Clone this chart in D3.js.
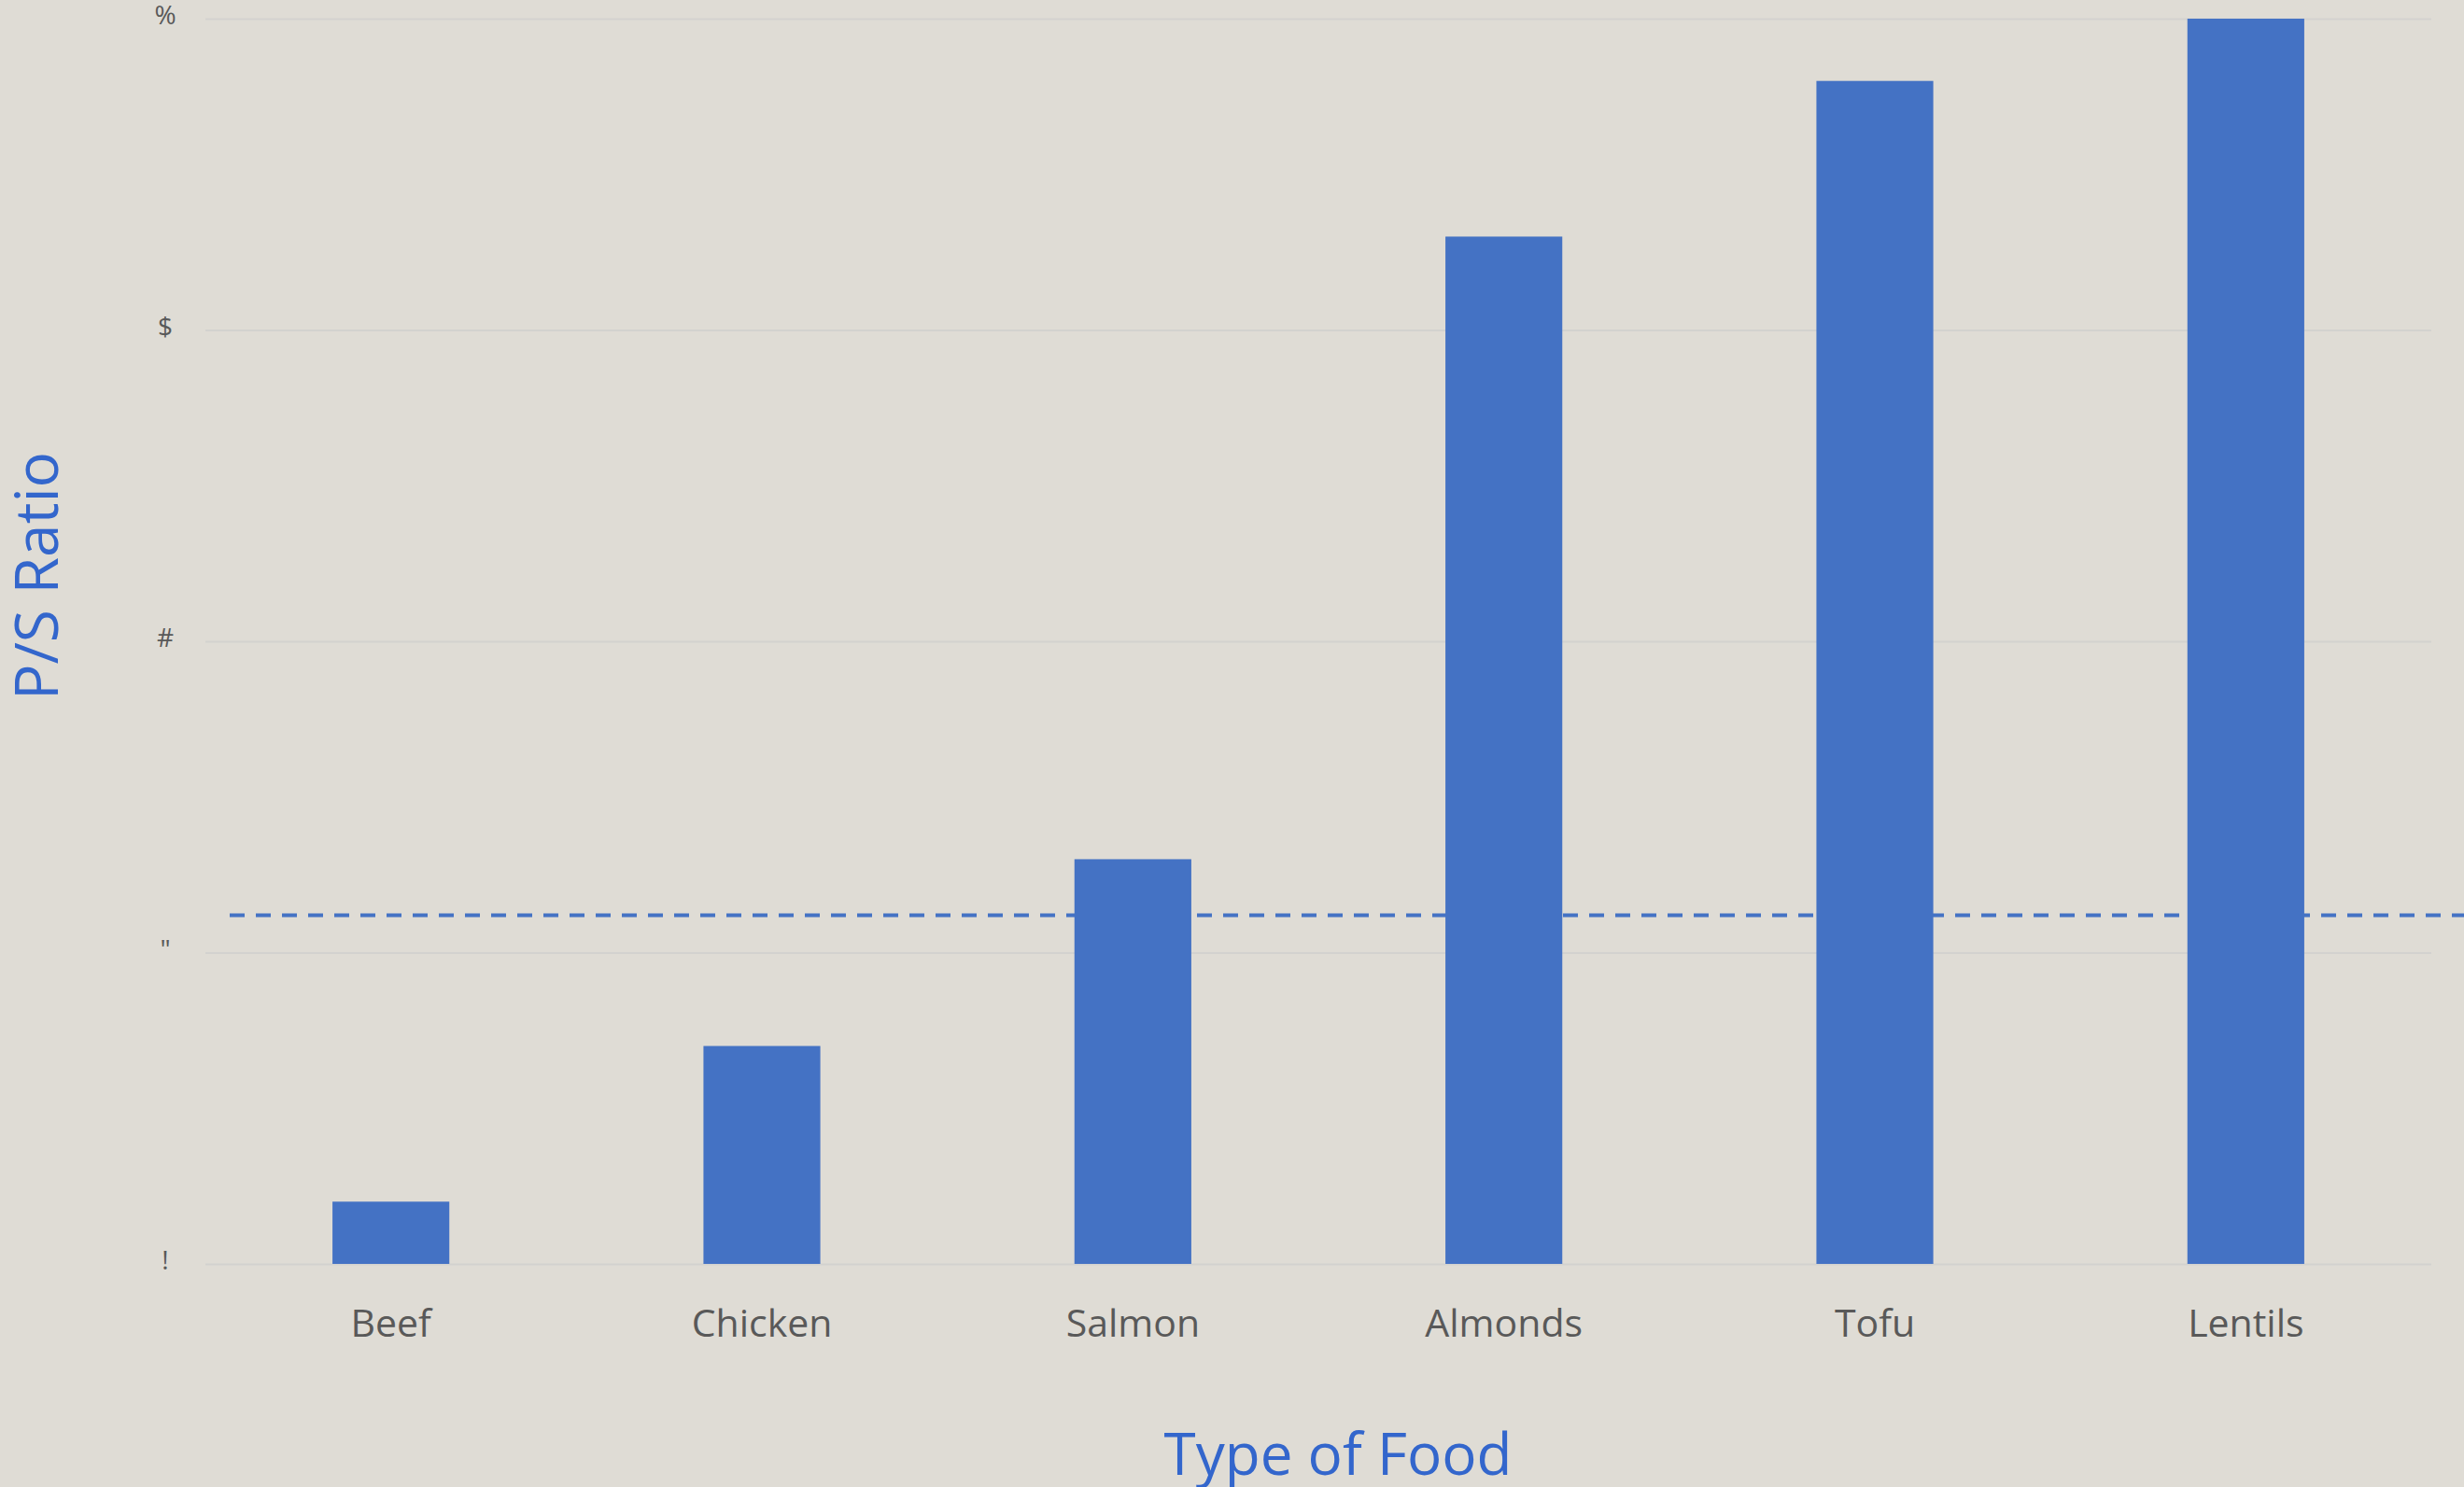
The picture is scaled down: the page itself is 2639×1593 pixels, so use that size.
<!DOCTYPE html>
<html>
<head>
<meta charset="utf-8">
<script src="https://cdn.jsdelivr.net/npm/d3@7"></script>
<style>
  html, body { margin: 0; padding: 0; background: #dfdcd5; }
  svg { display: block; }
  svg text { font-family: "Open Sans", "Noto Sans", sans-serif; }
</style>
</head>
<body>
<div id="chart"></div>
<script>
// data
const categories = ["Beef", "Chicken", "Salmon", "Almonds", "Tofu", "Lentils"];
const values = [0.2, 0.7, 1.3, 3.3, 3.8, 4.0];
const tickValues = [0, 1, 2, 3, 4];
const tickLabels = ["!", "\"", "#", "$", "%"];
const refValue = 1.12;

const width = 2639, height = 1593;
const margin = {top: 20, right: 35, bottom: 239, left: 220};
const innerWidth = width - margin.left - margin.right;
const innerHeight = height - margin.top - margin.bottom;

const svg = d3.select("#chart").append("svg")
  .attr("width", width)
  .attr("height", height);

svg.append("rect")
  .attr("width", width).attr("height", height)
  .attr("fill", "#dfdcd5");

const g = svg.append("g").attr("transform", `translate(${margin.left},${margin.top})`);

// scales
const x = d3.scaleBand()
  .domain(categories)
  .range([0, innerWidth])
  .paddingInner(0.685)
  .paddingOuter(0.3425);

const y = d3.scaleLinear()
  .domain([0, 4])
  .range([innerHeight, 0]);

// y axis + gridlines
const yAxis = g.append("g")
  .call(d3.axisLeft(y)
    .tickValues(tickValues)
    .tickSize(-innerWidth)
    .tickFormat(d => tickLabels[d]))
  .attr("font-family", null);

yAxis.select(".domain").remove();
yAxis.selectAll(".tick line")
  .attr("stroke", "#d3d2cf")
  .attr("stroke-width", 2);
yAxis.selectAll(".tick text")
  .attr("x", -43)
  .attr("y", 0)
  .attr("dy", "0.2em")
  .attr("text-anchor", "middle")
  .style("font-size", "28px")
  .style("fill", "#595959");

// bars
g.selectAll(".bar")
  .data(values)
  .join("rect")
    .attr("class", "bar")
    .attr("x", (d, i) => x(categories[i]))
    .attr("y", d => y(d))
    .attr("width", x.bandwidth())
    .attr("height", d => innerHeight - y(d))
    .attr("fill", "#4472c4");

// reference line
svg.append("line")
  .attr("x1", margin.left + 26)
  .attr("x2", width)
  .attr("y1", margin.top + y(refValue))
  .attr("y2", margin.top + y(refValue))
  .attr("stroke", "#4472c4")
  .attr("stroke-width", 4)
  .attr("stroke-dasharray", "16,12");

// x axis
const xAxis = g.append("g")
  .attr("transform", `translate(0,${innerHeight})`)
  .call(d3.axisBottom(x).tickSize(0))
  .attr("font-family", null);

xAxis.select(".domain").remove();
xAxis.selectAll("text")
  .attr("y", 78)
  .attr("dy", "0em")
  .style("font-size", "41px")
  .style("fill", "#595959");

// axis titles
svg.append("text")
  .attr("x", margin.left + innerWidth / 2 + 21)
  .attr("y", 1580)
  .attr("text-anchor", "middle")
  .style("font-size", "62px")
  .style("fill", "#3366cc")
  .text("Type of Food");

svg.append("text")
  .attr("transform", `translate(62,617) rotate(-90)`)
  .attr("text-anchor", "middle")
  .style("font-size", "64px")
  .style("fill", "#3366cc")
  .text("P/S Ratio");
</script>
</body>
</html>
